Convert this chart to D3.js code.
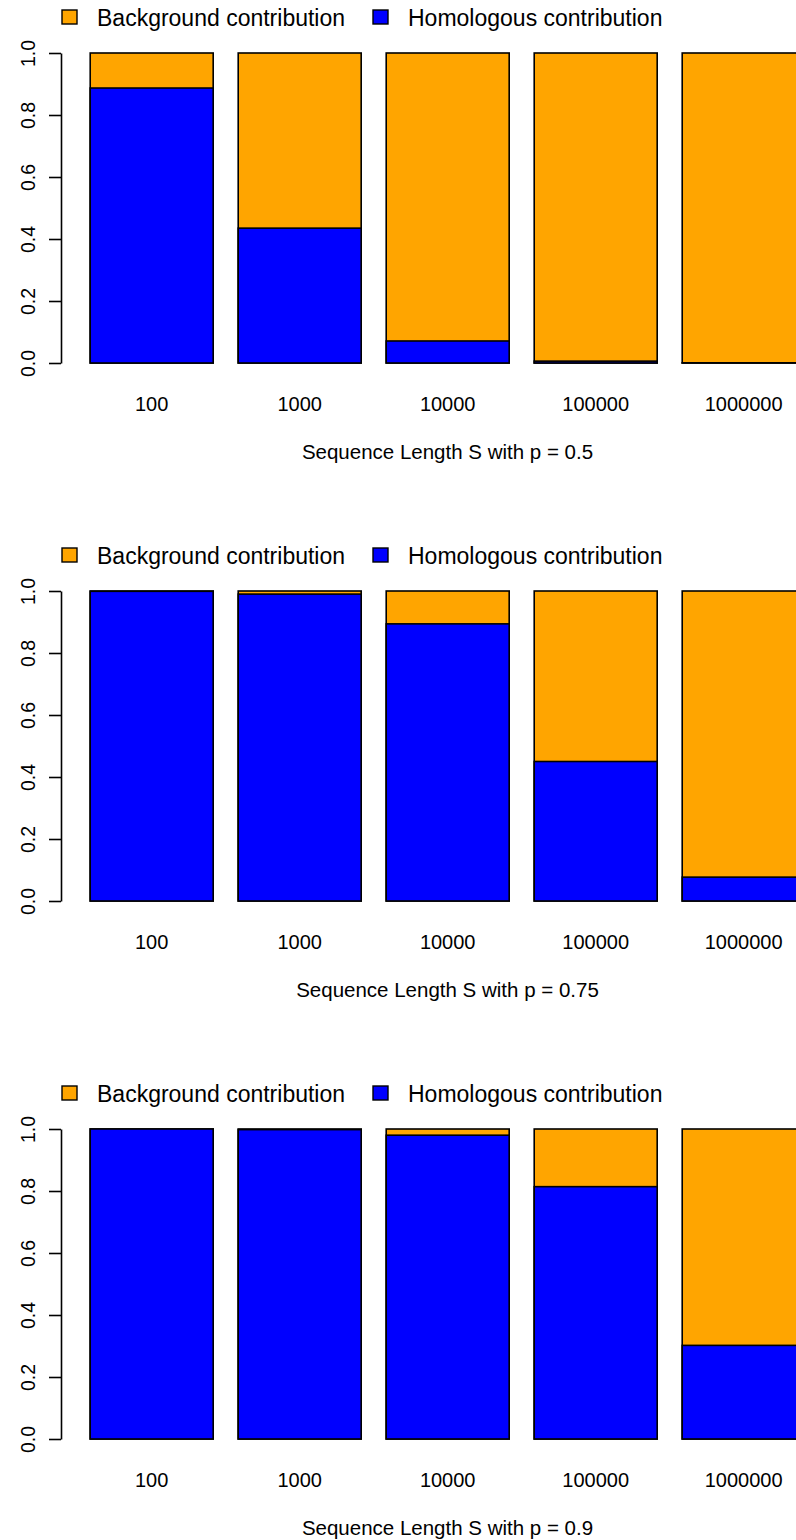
<!DOCTYPE html>
<html>
<head>
<meta charset="utf-8">
<script src="https://cdn.jsdelivr.net/npm/d3@7"></script>
<style>
  body { margin: 0; background: #fff; }
  svg { display: block; font-family: "Liberation Sans", Arial, Helvetica, sans-serif; }
</style>
</head>
<body>
<div id="chart"></div>
<script>
// categories along the x axis (sequence length S)
var lengths = ["100", "1000", "10000", "100000", "1000000"];

// homologous share of each bar, one array per panel (rest is background)
var homologousP05 = [0.887, 0.435, 0.071, 0.006, 0.0006];
var homologousP075 = [0.999, 0.990, 0.894, 0.450, 0.077];
var homologousP09 = [1.000, 0.998, 0.980, 0.814, 0.302];

var panelTitles = ["Sequence Length S with p = 0.5", "Sequence Length S with p = 0.75", "Sequence Length S with p = 0.9"];
var yTicks = [0, 0.2, 0.4, 0.6, 0.8, 1.0];
var legendLabels = ["Background contribution", "Homologous contribution"];
var colors = { background: "#FFA500", homologous: "#0000FF" };

var panels = [homologousP05, homologousP075, homologousP09];

var width = 796, height = 1540;
var panelStep = 538;

var svg = d3.select("#chart").append("svg")
  .attr("width", width)
  .attr("height", height);

// bars are 123px wide every 148px, last one runs off the right edge
var x = d3.scaleBand()
  .domain(lengths)
  .range([77.7, 817.7])
  .paddingInner(0.169)
  .paddingOuter(0.0845);

panels.forEach(function(values, i) {
  var off = i * panelStep;
  var g = svg.append("g");

  var y = d3.scaleLinear().domain([0, 1]).range([363 + off, 53 + off]);

  // stacked bars: blue on the bottom, orange on top
  var bars = g.selectAll(".bar").data(values).enter().append("g");

  bars.append("rect")
    .attr("x", function(d, j) { return x(lengths[j]); })
    .attr("y", y(1))
    .attr("width", x.bandwidth())
    .attr("height", y(0) - y(1))
    .attr("fill", colors.background)
    .attr("stroke", "#000")
    .attr("stroke-width", 1.6);

  bars.append("rect")
    .attr("x", function(d, j) { return x(lengths[j]); })
    .attr("y", function(d) { return y(d); })
    .attr("width", x.bandwidth())
    .attr("height", function(d) { return y(0) - y(d); })
    .attr("fill", colors.homologous)
    .attr("stroke", "#000")
    .attr("stroke-width", 1.6);

  // y axis, R style
  var yAxis = g.append("g")
    .attr("transform", "translate(61,0)")
    .call(d3.axisLeft(y).tickValues(yTicks).tickFormat(d3.format(".1f")).tickSize(12).tickSizeOuter(0));
  yAxis.select(".domain").attr("stroke-width", 1.6);
  yAxis.selectAll(".tick line").attr("stroke-width", 1.6);
  yAxis.selectAll(".tick text")
    .attr("font-size", 19.5)
    .attr("fill", "#000")
    .attr("text-anchor", "middle")
    .attr("transform", "rotate(-90)")
    .attr("x", 0)
    .attr("y", -26)
    .attr("dy", 0);

  // category labels under the bars
  g.selectAll(".xlab").data(lengths).enter().append("text")
    .attr("x", function(d) { return x(d) + x.bandwidth() / 2; })
    .attr("y", 411 + off)
    .attr("text-anchor", "middle")
    .attr("font-size", 20)
    .text(function(d) { return d; });

  g.append("text")
    .attr("x", 447.5)
    .attr("y", 459 + off)
    .attr("text-anchor", "middle")
    .attr("font-size", 20.5)
    .text(panelTitles[i]);

  // legend across the top
  var legendX = [62, 373];
  var legendFill = [colors.background, colors.homologous];
  legendLabels.forEach(function(label, k) {
    g.append("rect")
      .attr("x", legendX[k])
      .attr("y", 10 + off)
      .attr("width", 15)
      .attr("height", 14)
      .attr("fill", legendFill[k])
      .attr("stroke", "#000")
      .attr("stroke-width", 1.4);
    g.append("text")
      .attr("x", legendX[k] + 35)
      .attr("y", 26 + off)
      .attr("font-size", 23)
      .text(label);
  });
});
</script>
</body>
</html>
